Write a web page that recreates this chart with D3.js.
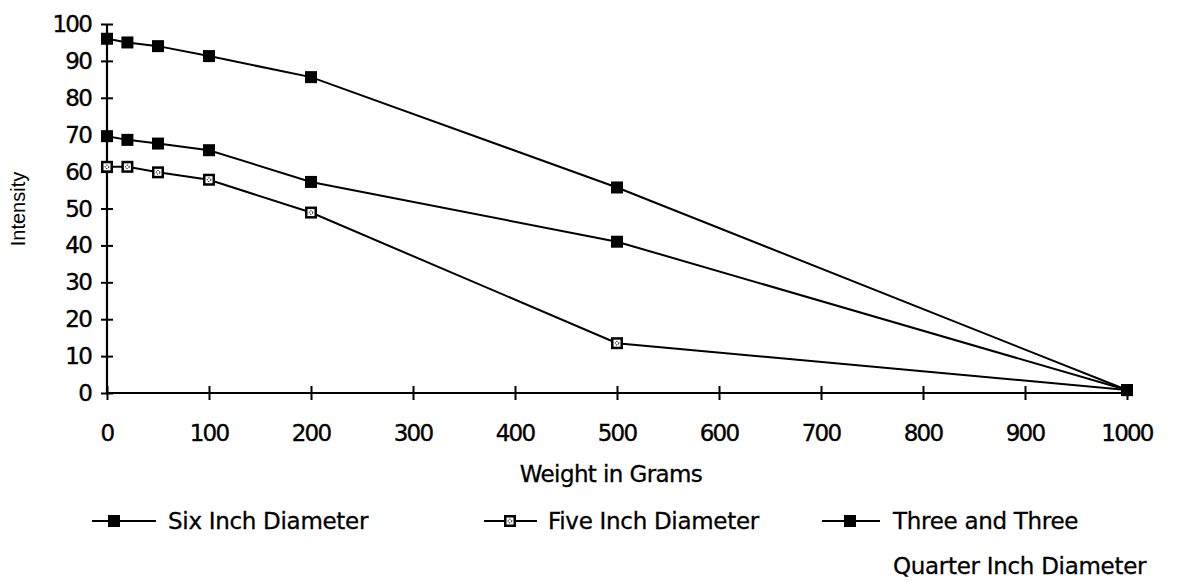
<!DOCTYPE html>
<html>
<head>
<meta charset="utf-8">
<script src="https://cdn.jsdelivr.net/npm/d3@7"></script>
<style>
  html, body { margin: 0; padding: 0; background: #fff; }
  svg { display: block; }
  .tick-label { font-family: "Century Gothic", "URW Gothic", "DejaVu Sans", sans-serif; font-size: 23px; fill: #000; stroke: #000; stroke-width: 0.35; }
  .legend-label { font-family: "Century Gothic", "URW Gothic", "DejaVu Sans", sans-serif; font-size: 23px; fill: #000; stroke: #000; stroke-width: 0.3; }
  .y-title { font-family: "Liberation Sans", Arial, sans-serif; font-size: 20px; fill: #000; }
</style>
</head>
<body>
<svg id="chart" width="1184" height="582"></svg>
<script>
// Weight applied (grams) at each measurement
const weights = [0, 20, 50, 100, 200, 500, 1000];

// Measured intensity for each cushion diameter
const sixInch = [96, 95, 94, 91.3, 85.6, 55.7, 0.8];
const fiveInch = [61.3, 61.3, 59.8, 57.8, 48.9, 13.5, 0.8];
const threeQuarterInch = [69.6, 68.6, 67.6, 65.8, 57.2, 41.0, 0.8];

const seriesNames = ["Six Inch Diameter", "Five Inch Diameter", "Three and Three|Quarter Inch Diameter"];
const xTicks = [0, 100, 200, 300, 400, 500, 600, 700, 800, 900, 1000];
const yTicks = [0, 10, 20, 30, 40, 50, 60, 70, 80, 90, 100];

const series = [
  { name: seriesNames[0], values: sixInch, marker: "solid" },
  { name: seriesNames[1], values: fiveInch, marker: "hatched" },
  { name: seriesNames[2], values: threeQuarterInch, marker: "solid" }
];

const svg = d3.select("#chart");

const x = d3.scaleLinear().domain([0, 1000]).range([107, 1127]);
const y = d3.scaleLinear().domain([0, 100]).range([393, 24]);

// Axes: ticks cross the axis line on both sides
const yAxis = svg.append("g").attr("transform", `translate(${x(0)},0)`)
  .call(d3.axisLeft(y).tickValues(yTicks).tickSize(6).tickSizeOuter(0).tickFormat(""));
yAxis.selectAll(".tick line").attr("x2", -6).attr("x1", 6).attr("stroke-width", 2);
yAxis.select(".domain").attr("stroke-width", 2.2).attr("d", `M0,${y(0)}V${y(100)}`);

const xAxis = svg.append("g").attr("transform", `translate(0,${y(0)})`)
  .call(d3.axisBottom(x).tickValues(xTicks).tickSize(6).tickSizeOuter(0).tickFormat(""));
xAxis.selectAll(".tick line").attr("y1", -7).attr("y2", 7).attr("stroke-width", 2);
xAxis.select(".domain").attr("stroke-width", 2.2).attr("d", `M${x(0)},0H${x(1000)}`);

// Tick labels
svg.append("g").selectAll("text").data(yTicks).join("text")
  .attr("class", "tick-label")
  .attr("x", x(0) - 16)
  .attr("y", d => y(d) + 8)
  .attr("text-anchor", "end")
  .attr("letter-spacing", -1.8)
  .text(d => d);

svg.append("g").selectAll("text").data(xTicks).join("text")
  .attr("class", "tick-label")
  .attr("x", d => x(d))
  .attr("y", 441)
  .attr("text-anchor", "middle")
  .attr("letter-spacing", -1.8)
  .text(d => d);

// Axis titles
svg.append("text")
  .attr("class", "y-title")
  .attr("transform", `translate(25,209) rotate(-90)`)
  .attr("text-anchor", "middle")
  .text("Intensity");

svg.append("text")
  .attr("class", "legend-label")
  .attr("x", 611)
  .attr("y", 482)
  .attr("text-anchor", "middle")
  .attr("letter-spacing", -0.6)
  .text("Weight in Grams");

// Marker drawing
function drawMarker(g, type, cx, cy) {
  const s = 12;
  g.append("rect").attr("x", cx - s / 2).attr("y", cy - s / 2)
    .attr("width", s).attr("height", s).attr("fill", "#000");
  if (type === "hatched") {
    g.append("rect").attr("x", cx - 3.5).attr("y", cy - 3.5)
      .attr("width", 7).attr("height", 7).attr("fill", "#fff");
    g.append("circle").attr("cx", cx).attr("cy", cy).attr("r", 1.8)
      .attr("fill", "none").attr("stroke", "#000").attr("stroke-width", 1)
      .attr("stroke-dasharray", "1.3 1");
  }
}

const line = d3.line().x(d => x(d[0])).y(d => y(d[1]));

series.forEach(s => {
  const pts = weights.map((w, i) => [w, s.values[i]]);
  svg.append("path").datum(pts)
    .attr("d", line)
    .attr("fill", "none")
    .attr("stroke", "#000")
    .attr("stroke-width", 2);
  const mg = svg.append("g");
  pts.forEach(p => drawMarker(mg, s.marker, x(p[0]), y(p[1])));
});

// Legend
const legendItems = [
  { lx: 92, lw: 64, mx: 114, tx: 168 },
  { lx: 484, lw: 53, mx: 510, tx: 548 },
  { lx: 822, lw: 58, mx: 850, tx: 893 }
];
const legendY = 521;
series.forEach((s, i) => {
  const it = legendItems[i];
  const g = svg.append("g");
  g.append("line").attr("x1", it.lx).attr("x2", it.lx + it.lw)
    .attr("y1", legendY).attr("y2", legendY)
    .attr("stroke", "#000").attr("stroke-width", 2);
  drawMarker(g, s.marker, it.mx, legendY);
  const lines = s.name.split("|");
  const t = g.append("text").attr("class", "legend-label")
    .attr("x", it.tx).attr("y", legendY + 8).attr("letter-spacing", -0.3);
  lines.forEach((ln, k) => {
    t.append("tspan").attr("x", it.tx).attr("dy", k === 0 ? 0 : 45).text(ln);
  });
});
</script>
</body>
</html>
